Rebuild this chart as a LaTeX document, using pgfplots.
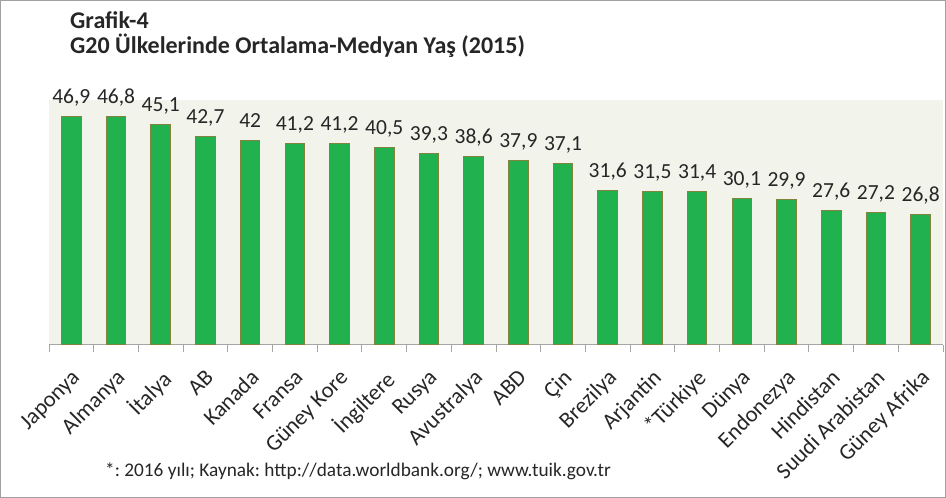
\documentclass[border=0pt]{standalone}
\usepackage{fontspec}
\setmainfont{Carlito}
\usepackage{pgfplots}
\pgfplotsset{compat=1.18}
\frenchspacing
\definecolor{barg}{HTML}{22B14F}
\definecolor{bare}{HTML}{80843F}
\definecolor{plotbg}{HTML}{F2F4EC}
\definecolor{frameg}{HTML}{A0A0A0}
\definecolor{axisg}{HTML}{A6A6A6}
\definecolor{txt}{HTML}{262626}
\pgfplotstableread{
x y lab
0 46.9 46,9
1 46.8 46,8
2 45.1 45,1
3 42.7 42,7
4 42 42
5 41.2 41,2
6 41.2 41,2
7 40.5 40,5
8 39.3 39,3
9 38.6 38,6
10 37.9 37,9
11 37.1 37,1
12 31.6 31,6
13 31.5 31,5
14 31.4 31,4
15 30.1 30,1
16 29.9 29,9
17 27.6 27,6
18 27.2 27,2
19 26.8 26,8
}\datatable
\begin{document}
\begin{tikzpicture}[x=1pt,y=1pt]
\draw[color=frameg, line width=1pt] (0.5,0.5) rectangle (945.5,497.5);
\node[anchor=base west, inner sep=0pt, text=txt, font=\fontsize{24}{28}\selectfont\bfseries] at (70,469.5) {Grafik-4};
\node[anchor=base west, inner sep=0pt, text=txt, font=\fontsize{24}{28}\selectfont\bfseries] at (70,444.5) {G20 Ülkelerinde Ortalama-Medyan Yaş (2015)};
\node[anchor=base west, inner sep=0pt, text=txt, font=\fontsize{19.3}{23}\selectfont] at (105,21) {*: 2016 yılı; Kaynak: http://data.worldbank.org/; www.tuik.gov.tr};
\begin{axis}[
  at={(49pt,153pt)}, anchor=south west, scale only axis,
  width=894pt, height=245pt,
  xmin=-0.5, xmax=19.5, ymin=0, ymax=50.2,
  axis background/.style={fill=plotbg},
  axis x line*=bottom, axis y line=none,
  x axis line style={color=axisg, line width=1pt},
  xtick={0,...,19},
  xticklabels={Japonya, Almanya, İtalya, AB, Kanada, Fransa, Güney Kore, İngiltere, Rusya, Avustralya, ABD, Çin, Brezilya, Arjantin, *Türkiye, Dünya, Endonezya, Hindistan, Suudi Arabistan, Güney Afrika},
  major tick length=0pt,
  minor xtick={-0.5,0.5,...,19.5},
  minor tick length=7pt,
  xtick align=outside,
  minor tick style={color=axisg, line width=1pt},
  x tick label style={rotate=45, anchor=north east, inner sep=0pt, xshift=-17pt, yshift=-15.5pt, font=\fontsize{22.5}{26}\selectfont, text=txt},
  ytick=\empty,
  clip=false,
]
\addplot[ybar, bar width=0.44, fill=barg, draw=bare, line width=1pt,
  nodes near coords, point meta=explicit symbolic,
  every node near coord/.append style={font=\fontsize{21.5}{25}\selectfont, text=txt, anchor=base, inner sep=0pt, yshift=13pt}]
  table[x=x, y=y, meta=lab] {\datatable};
\end{axis}
\end{tikzpicture}
\end{document}
